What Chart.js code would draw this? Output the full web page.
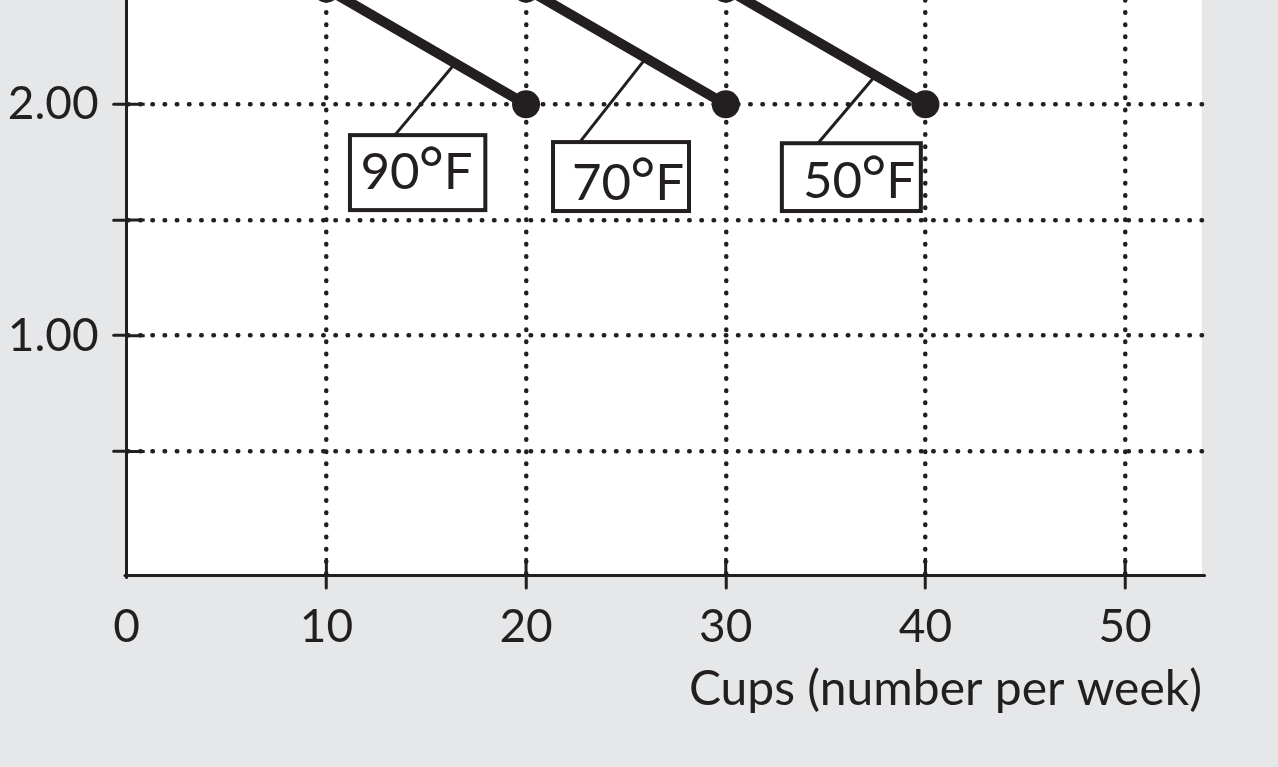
<!DOCTYPE html>
<html>
<head>
<meta charset="utf-8">
<script src="https://cdn.jsdelivr.net/npm/chart.js@4.4.1/dist/chart.umd.min.js"></script>
<style>
  html, body { margin: 0; padding: 0; background: #e6e7e9; }
  #wrap { width: 1278px; height: 767px; position: relative; }
</style>
</head>
<body>
<div id="wrap"><canvas id="chart"></canvas></div>
<script>
// demand curves, price of a cup vs cups bought per week
const seriesLabels = ["90°F", "70°F", "50°F"];
const cups90 = [10, 20];
const price90 = [2.50, 2.00];
const cups70 = [20, 30];
const price70 = [2.50, 2.00];
const cups50 = [30, 40];
const price50 = [2.50, 2.00];

const xTickValues = [0, 10, 20, 30, 40, 50];
const xTickLabels = ["0", "10", "20", "30", "40", "50"];
const yTickValues = [0.5, 1, 1.5, 2];
const yTickLabels = ["", "1.00", "", "2.00"];

const INK = "#231f20";
const FONT = "Lato";

// label boxes, in data units; "along" is where the leader meets the curve
const labelBoxes = [
  { x0: 11.18, x1: 17.96, y0: 1.543, y1: 1.867, tx: 11.71, ty: 1.634, lx: 13.43, along: 0.645 },
  { x0: 21.35, x1: 28.16, y0: 1.539, y1: 1.837, tx: 22.30, ty: 1.586, lx: 22.69, along: 0.60 },
  { x0: 32.81, x1: 39.77, y0: 1.539, y1: 1.832, tx: 33.87, ty: 1.595, lx: 34.62, along: 0.75 },
];

function toPoints(xs, ys) {
  return xs.map((v, i) => ({ x: v, y: ys[i] }));
}

const plotBackground = {
  id: "plotBackground",
  beforeDraw(chart) {
    const { ctx, chartArea: a } = chart;
    ctx.save();
    ctx.fillStyle = "#ffffff";
    ctx.fillRect(a.left, 0, a.right - a.left, a.bottom);
    ctx.restore();
    // grid lines inherit this, so the dashes come out as round dots
    ctx.lineCap = "round";
  },
};

const innerTicks = {
  id: "innerTicks",
  afterDraw(chart) {
    const { ctx, chartArea: a, scales: { x, y } } = chart;
    ctx.save();
    ctx.lineCap = "butt";
    ctx.strokeStyle = INK;
    ctx.lineWidth = 3;
    ctx.beginPath();
    yTickValues.forEach((v) => {
      const py = y.getPixelForValue(v);
      ctx.moveTo(a.left, py);
      ctx.lineTo(a.left + 18, py);
    });
    xTickValues.forEach((v) => {
      if (v === 0) return;
      const px = x.getPixelForValue(v);
      ctx.moveTo(px, a.bottom);
      ctx.lineTo(px, a.bottom - 17);
    });
    ctx.stroke();
    ctx.restore();
  },
};

const tempLabels = {
  id: "tempLabels",
  afterDatasetsDraw(chart) {
    const { ctx, scales: { x, y } } = chart;
    ctx.save();
    labelBoxes.forEach((b, i) => {
      const pts = chart.getDatasetMeta(i).data;
      const ex = pts[0].x + (pts[1].x - pts[0].x) * b.along;
      const ey = pts[0].y + (pts[1].y - pts[0].y) * b.along;
      const left = x.getPixelForValue(b.x0);
      const right = x.getPixelForValue(b.x1);
      const top = y.getPixelForValue(b.y1);
      const bottom = y.getPixelForValue(b.y0);

      ctx.lineCap = "butt";
      ctx.strokeStyle = INK;
      ctx.lineWidth = 3;
      ctx.beginPath();
      ctx.moveTo(x.getPixelForValue(b.lx), top);
      ctx.lineTo(ex, ey);
      ctx.stroke();

      ctx.fillStyle = "#ffffff";
      ctx.fillRect(left, top, right - left, bottom - top);
      ctx.lineWidth = 4;
      ctx.strokeRect(left, top, right - left, bottom - top);

      // "90°F": digits, raised ring, F
      const label = seriesLabels[i];
      const num = label.slice(0, label.indexOf("°"));
      const unit = label.slice(label.indexOf("°") + 1);
      const base = y.getPixelForValue(b.ty);
      let cx = x.getPixelForValue(b.tx);
      ctx.fillStyle = INK;
      ctx.textBaseline = "alphabetic";
      ctx.textAlign = "left";
      ctx.font = `51px ${FONT}`;
      ctx.fillText(num, cx, base);
      cx += ctx.measureText(num).width + 1;
      ctx.font = `100px ${FONT}`;
      const m = ctx.measureText("°");
      const h = m.actualBoundingBoxAscent + m.actualBoundingBoxDescent;
      const size = 100 * 20 / h;
      ctx.font = `${size}px ${FONT}`;
      const m2 = ctx.measureText("°");
      ctx.fillText("°", cx + m2.actualBoundingBoxLeft, base - 43 + m2.actualBoundingBoxAscent);
      cx += m2.actualBoundingBoxRight + m2.actualBoundingBoxLeft + 2;
      ctx.font = `51px ${FONT}`;
      ctx.fillText(unit, cx, base);
    });
    ctx.restore();
  },
};

const lineStyle = {
  borderColor: INK,
  backgroundColor: INK,
  borderWidth: 10,
  pointRadius: 14,
  pointBorderWidth: 0,
  pointBackgroundColor: INK,
  pointHoverRadius: 14,
  fill: false,
};

const ctx = document.getElementById("chart").getContext("2d");

new Chart(ctx, {
  type: "line",
  data: {
    datasets: [
      { label: seriesLabels[0], data: toPoints(cups90, price90), ...lineStyle },
      { label: seriesLabels[1], data: toPoints(cups70, price70), ...lineStyle },
      { label: seriesLabels[2], data: toPoints(cups50, price50), ...lineStyle },
    ],
  },
  options: {
    responsive: true,
    maintainAspectRatio: false,
    animation: false,
    events: [],
    layout: { autoPadding: false, padding: { top: 0, left: 0, right: 76, bottom: 0 } },
    plugins: {
      legend: { display: false },
      tooltip: { enabled: false },
    },
    scales: {
      x: {
        type: "linear",
        position: "bottom",
        min: 0,
        max: 53.85,
        afterBuildTicks: (s) => { s.ticks = xTickValues.map((v) => ({ value: v })); },
        afterFit: (s) => { s.height = 192; s.paddingLeft = 0; s.paddingRight = 0; },
        grid: {
          color: (c) => (c.tick && c.tick.value === 0 ? "rgba(0,0,0,0)" : INK),
          tickColor: (c) => (c.tick && c.tick.value === 0 ? "rgba(0,0,0,0)" : INK),
          lineWidth: 4.5,
          tickBorderDash: [],
          tickLength: 13,
          tickWidth: 3,
        },
        border: { color: INK, width: 3, dash: [0.5, 11.7] },
        ticks: {
          color: INK,
          font: { family: FONT, size: 46 },
          padding: 12,
          maxRotation: 0,
          autoSkip: false,
          callback: (v) => xTickLabels[xTickValues.indexOf(v)] ?? "",
        },
        title: {
          display: true,
          text: "Cups (number per week)",
          align: "end",
          color: INK,
          font: { family: FONT, size: 48 },
          padding: { top: 0, bottom: 49 },
        },
      },
      y: {
        type: "linear",
        min: -0.034,
        max: 2.451,
        afterBuildTicks: (s) => { s.ticks = yTickValues.map((v) => ({ value: v })); },
        afterFit: (s) => { s.width = 126.7; s.paddingTop = 0; s.paddingBottom = 0; },
        grid: {
          color: INK,
          lineWidth: 4.5,
          tickBorderDash: [],
          tickColor: INK,
          tickLength: 13,
          tickWidth: 3,
        },
        border: { color: INK, width: 3, dash: [0.5, 11.7] },
        ticks: {
          color: INK,
          font: { family: FONT, size: 46 },
          padding: 15,
          autoSkip: false,
          callback: (v) => yTickLabels[yTickValues.indexOf(v)] ?? "",
        },
      },
    },
  },
  plugins: [plotBackground, innerTicks, tempLabels],
});
</script>
</body>
</html>
